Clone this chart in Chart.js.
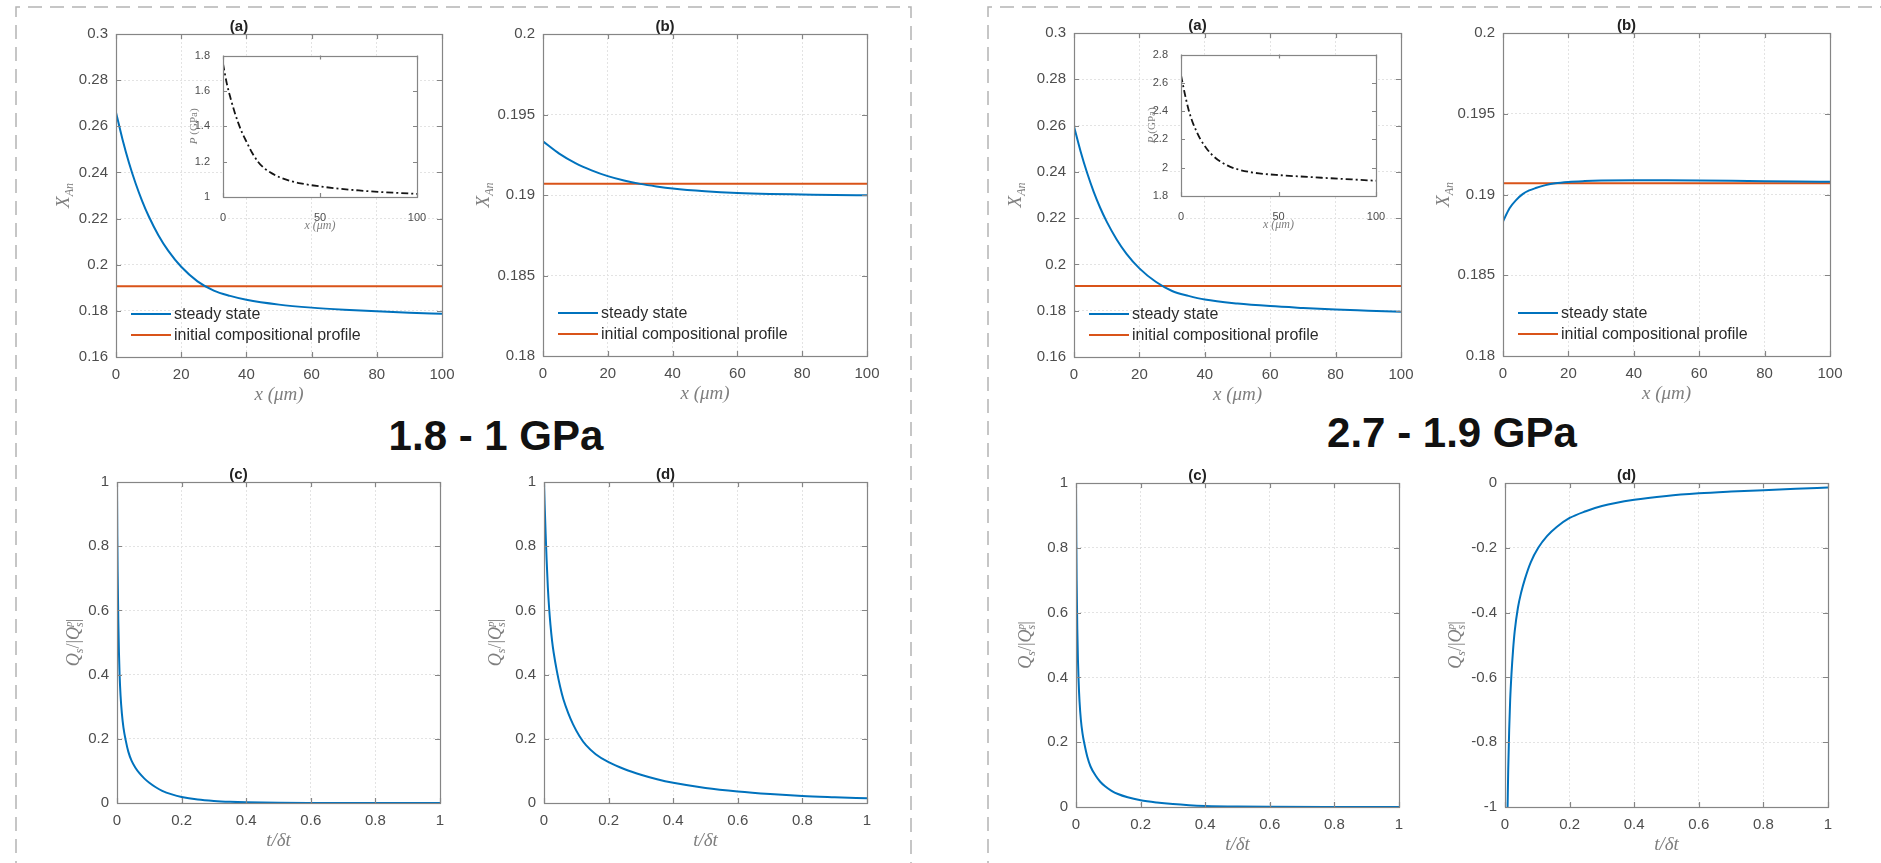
<!DOCTYPE html>
<html>
<head>
<meta charset="utf-8">
<script src="https://cdn.jsdelivr.net/npm/chart.js@4.4.1/dist/chart.umd.min.js"></script>
<style>
  html, body { margin: 0; padding: 0; background: #fff; }
  body { width: 1881px; height: 863px; position: relative; overflow: hidden; }
  canvas { position: absolute; }
  svg { position: absolute; left: 0; top: 0; }
</style>
</head>
<body>
<svg width="1881" height="863">
  <path d="M16,875 V7 H911 V875" fill="none" stroke="#b4b4b4" stroke-width="1.5" stroke-dasharray="14 8"/>
  <path d="M988,875 V7 H1895" fill="none" stroke="#b4b4b4" stroke-width="1.5" stroke-dasharray="14 8"/>
  <text x="496" y="450" text-anchor="middle" font-family="Liberation Sans, Arial, sans-serif" font-weight="bold" font-size="42" fill="#111">1.8 - 1 GPa</text>
  <text x="1452" y="447" text-anchor="middle" font-family="Liberation Sans, Arial, sans-serif" font-weight="bold" font-size="42" fill="#111">2.7 - 1.9 GPa</text>
</svg>
<script>
// ---------- data ----------
// initial compositional profile (flat)
const initX = [0, 100];
const initY = [0.1907, 0.1907];

// 1.8 - 1 GPa, panel (a): steady state X_An
const xLa = [0, 2, 4, 6, 8, 10, 13, 16, 20, 25, 30, 35, 40, 50, 60, 70, 80, 90, 100];
const steadyLa = [0.266, 0.2543, 0.2441, 0.2353, 0.2277, 0.2211, 0.2128, 0.2061, 0.1991, 0.1928, 0.1888, 0.1865, 0.1848, 0.1827, 0.1814, 0.1805, 0.1798, 0.1792, 0.1787];
// inset pressure
const xLaIn = [0, 2, 4, 6, 8, 10, 12, 15, 18, 21, 25, 30, 35, 40, 50, 60, 70, 80, 90, 100];
const pressLa = [1.755, 1.64, 1.555, 1.48, 1.415, 1.36, 1.315, 1.25, 1.20, 1.165, 1.135, 1.108, 1.09, 1.077, 1.06, 1.047, 1.037, 1.029, 1.023, 1.018];

// 1.8 - 1 GPa, panel (b)
const xLb = [0, 5, 10, 15, 20, 25, 30, 35, 40, 50, 60, 70, 80, 90, 100];
const steadyLb = [0.19333, 0.19257, 0.19198, 0.19153, 0.19117, 0.1909, 0.19069, 0.19053, 0.1904, 0.19023, 0.19012, 0.19006, 0.19003, 0.19, 0.18998];

// 1.8 - 1 GPa, panel (c)
const tLc = [0, 0.001, 0.002, 0.004, 0.006, 0.008, 0.011, 0.015, 0.02, 0.027, 0.035, 0.045, 0.057, 0.07, 0.085, 0.1, 0.12, 0.14, 0.17, 0.2, 0.25, 0.3, 0.35, 0.4, 0.5, 0.6, 0.8, 1];
const qLc = [1, 0.83, 0.72, 0.57, 0.47, 0.40, 0.335, 0.28, 0.235, 0.195, 0.16, 0.132, 0.11, 0.092, 0.076, 0.063, 0.049, 0.038, 0.027, 0.019, 0.011, 0.0065, 0.0038, 0.0022, 0.0008, 0.0003, 0.00005, 0];

// 1.8 - 1 GPa, panel (d)
const tLd = [0, 0.002, 0.005, 0.008, 0.012, 0.016, 0.02, 0.025, 0.03, 0.04, 0.05, 0.06, 0.075, 0.09, 0.11, 0.13, 0.16, 0.2, 0.25, 0.3, 0.35, 0.4, 0.5, 0.6, 0.7, 0.8, 0.9, 1];
const qLd = [1, 0.93, 0.84, 0.76, 0.67, 0.605, 0.555, 0.505, 0.468, 0.41, 0.362, 0.323, 0.28, 0.245, 0.208, 0.18, 0.152, 0.127, 0.105, 0.088, 0.074, 0.063, 0.047, 0.036, 0.028, 0.022, 0.018, 0.0145];

// 2.7 - 1.9 GPa, panel (a)
const xRa = [0, 2, 4, 6, 8, 10, 13, 16, 20, 25, 30, 35, 40, 50, 60, 70, 80, 90, 100];
const steadyRa = [0.2596, 0.2489, 0.2396, 0.2315, 0.2245, 0.2185, 0.2109, 0.2047, 0.1983, 0.1925, 0.1885, 0.1864, 0.1848, 0.1831, 0.182, 0.1812, 0.1805, 0.18, 0.1795];
const xRaIn = [0, 2, 4, 6, 8, 10, 13, 16, 20, 25, 30, 35, 40, 50, 60, 75, 88, 100];
const pressRa = [2.654, 2.52, 2.405, 2.32, 2.255, 2.20, 2.138, 2.09, 2.045, 2.008, 1.985, 1.97, 1.96, 1.948, 1.939, 1.927, 1.917, 1.908];

// 2.7 - 1.9 GPa, panel (b)
const xRb = [0, 2, 4, 6, 8, 10, 13, 16, 20, 25, 30, 40, 50, 60, 70, 80, 90, 100];
const steadyRb = [0.18833, 0.18915, 0.18965, 0.19002, 0.19025, 0.1904, 0.19058, 0.1907, 0.19078, 0.19083, 0.19086, 0.19088, 0.19088, 0.19087, 0.19085, 0.19082, 0.1908, 0.19079];

// 2.7 - 1.9 GPa, panel (c)
const tRc = [0, 0.001, 0.002, 0.004, 0.006, 0.008, 0.011, 0.015, 0.02, 0.026, 0.035, 0.045, 0.06, 0.075, 0.09, 0.11, 0.13, 0.16, 0.2, 0.25, 0.3, 0.35, 0.4, 0.5, 0.6, 0.8, 1];
const qRc = [1, 0.82, 0.70, 0.55, 0.455, 0.39, 0.325, 0.27, 0.228, 0.195, 0.155, 0.125, 0.098, 0.078, 0.064, 0.05, 0.04, 0.03, 0.021, 0.014, 0.009, 0.0055, 0.0033, 0.0012, 0.0004, 0.00005, 0];

// 2.7 - 1.9 GPa, panel (d)
const tRd = [0.008, 0.01, 0.013, 0.016, 0.02, 0.025, 0.03, 0.04, 0.05, 0.062, 0.08, 0.103, 0.13, 0.16, 0.2, 0.25, 0.3, 0.4, 0.5, 0.6, 0.7, 0.8, 0.9, 1];
const qRd = [-1, -0.884, -0.76, -0.67, -0.59, -0.515, -0.458, -0.385, -0.338, -0.295, -0.244, -0.2, -0.164, -0.136, -0.108, -0.087, -0.071, -0.052, -0.04, -0.032, -0.0265, -0.022, -0.0178, -0.0142];

// ---------- styling ----------
const BLUE = '#0072BD';
const ORANGE = '#D95319';
const SANS = '"Liberation Sans", Arial, sans-serif';
const SERIF = '"Liberation Serif", "Times New Roman", serif';

const pts = (xs, ys) => xs.map((x, i) => ({ x: x, y: ys[i] }));
const fmt = v => String(+Number(v).toFixed(4));

// rich y-axis labels (subscripts / superscripts)
const XAN = [
  { t: 'X', f: 'italic 19px ' + SERIF, dy: 0 },
  { t: 'An', f: 'italic 12px ' + SERIF, dy: 4 }
];
const QS = [
  { t: 'Q', f: 'italic 18px ' + SERIF, dy: 0 },
  { t: 's', f: 'italic 12px ' + SERIF, dy: 4 },
  { t: '/|', f: '18px ' + SERIF, dy: 0 },
  { t: 'Q', f: 'italic 18px ' + SERIF, dy: 0 },
  { t: 'p', f: 'italic 11px ' + SERIF, dy: -7, noAdv: true },
  { t: 's', f: 'italic 12px ' + SERIF, dy: 4 },
  { t: '|', f: '18px ' + SERIF, dy: 0 }
];
const PGPA = [
  { t: 'P', f: 'italic 11px ' + SERIF, dy: -2 },
  { t: ' (GPa)', f: '11px ' + SERIF, dy: -2 }
];

const yLabelSpec = {};

function drawRich(ctx, segs, cx, cy) {
  ctx.save();
  ctx.translate(cx, cy);
  ctx.rotate(-Math.PI / 2);
  const widths = segs.map(s => { ctx.font = s.f; return ctx.measureText(s.t).width; });
  let total = 0;
  segs.forEach((s, i) => { if (!s.noAdv) total += widths[i]; });
  let x = -total / 2;
  ctx.fillStyle = '#7f7f7f';
  ctx.textBaseline = 'alphabetic';
  ctx.textAlign = 'left';
  segs.forEach((s, i) => {
    ctx.font = s.f;
    ctx.fillText(s.t, x, 6 + s.dy);
    if (!s.noAdv) x += widths[i];
  });
  ctx.restore();
}

// MATLAB-like axes: white fill, box, inward ticks, y label, legend inside
const matlabLook = {
  id: 'matlabLook',
  beforeDraw(chart, args, o) {
    if (!o.fill) return;
    const a = chart.chartArea;
    chart.ctx.save();
    chart.ctx.fillStyle = '#fff';
    chart.ctx.fillRect(a.left, a.top, a.width, a.height);
    chart.ctx.restore();
  },
  afterDatasetsDraw(chart, args, o) {
    if (!o.legend) return;
    const a = chart.chartArea, ctx = chart.ctx;
    const ds = chart.data.datasets;
    ctx.save();
    ctx.font = '16px ' + SANS;
    ctx.textBaseline = 'middle';
    ctx.textAlign = 'left';
    ds.forEach((d, i) => {
      const y = a.bottom - 22 - (ds.length - 1 - i) * 21;
      ctx.strokeStyle = d.borderColor;
      ctx.lineWidth = 2;
      ctx.beginPath();
      ctx.moveTo(a.left + 15, y);
      ctx.lineTo(a.left + 55, y);
      ctx.stroke();
      ctx.fillStyle = '#2b2b2b';
      ctx.fillText(d.label, a.left + 58, y + 1);
    });
    ctx.restore();
  },
  afterDraw(chart, args, o) {
    const a = chart.chartArea, ctx = chart.ctx;
    const xs = chart.scales.x, ys = chart.scales.y;
    const tl = o.tickLen || 5;
    ctx.save();
    ctx.strokeStyle = '#858585';
    ctx.lineWidth = 1.2;
    ctx.beginPath();
    xs.ticks.forEach(t => {
      const px = Math.round(xs.getPixelForValue(t.value)) + 0.5;
      ctx.moveTo(px, a.bottom); ctx.lineTo(px, a.bottom - tl);
      ctx.moveTo(px, a.top); ctx.lineTo(px, a.top + tl);
    });
    ys.ticks.forEach(t => {
      const py = Math.round(ys.getPixelForValue(t.value)) + 0.5;
      ctx.moveTo(a.left, py); ctx.lineTo(a.left + tl, py);
      ctx.moveTo(a.right, py); ctx.lineTo(a.right - tl, py);
    });
    ctx.stroke();
    ctx.strokeRect(Math.round(a.left) + 0.5, Math.round(a.top) + 0.5, Math.round(a.width), Math.round(a.height));
    ctx.restore();
    const lab = yLabelSpec[chart.canvas.id];
    if (lab) drawRich(ctx, lab.segs, a.left - lab.off, (a.top + a.bottom) / 2);
  }
};
Chart.register(matlabLook);

function makePanel(id, s) {
  const inset = !!s.inset;
  const P = inset ? { l: 50, t: 8, r: 20, b: 42 } : { l: 80, t: 30, r: 30, b: 55 };
  const w = s.box.r - s.box.l + P.l + P.r;
  const h = s.box.b - s.box.t + P.t + P.b;
  const c = document.createElement('canvas');
  c.id = id;
  c.width = w; c.height = h;
  c.style.left = (s.box.l - P.l) + 'px';
  c.style.top = (s.box.t - P.t) + 'px';
  c.style.width = w + 'px'; c.style.height = h + 'px';
  document.body.appendChild(c);
  yLabelSpec[id] = { segs: s.yLab, off: s.yOff };

  const tickFont = { family: SANS, size: inset ? 11 : 15 };
  const grid = inset ? { display: false } : { color: '#e3e3e3', lineWidth: 1, drawTicks: false };

  new Chart(c, {
    type: 'line',
    data: { datasets: s.series },
    options: {
      responsive: false,
      animation: false,
      devicePixelRatio: 1,
      events: [],
      layout: { padding: { left: 0, top: inset ? P.t : 0, right: P.r, bottom: 0 } },
      elements: { point: { radius: 0 }, line: { borderWidth: 2, cubicInterpolationMode: 'monotone' } },
      scales: {
        x: {
          type: 'linear', min: s.xr[0], max: s.xr[1],
          afterFit: sc => { sc.height = P.b; },
          grid: grid,
          border: { display: false, dash: [2, 2] },
          ticks: { stepSize: s.xr[2], autoSkip: false, maxRotation: 0, color: '#4d4d4d', font: tickFont, padding: inset ? 6 : 9, callback: fmt },
          title: { display: true, text: s.xTitle, color: '#7f7f7f', font: { family: SERIF, style: 'italic', size: inset ? 12 : 19 }, padding: { top: 0, bottom: inset ? 6 : 6 } }
        },
        y: {
          type: 'linear', min: s.yr[0], max: s.yr[1],
          afterFit: sc => { sc.width = P.l; },
          grid: grid,
          border: { display: false, dash: [2, 2] },
          ticks: { stepSize: s.yr[2], autoSkip: false, color: '#4d4d4d', font: tickFont, padding: inset ? 5 : 8, callback: fmt }
        }
      },
      plugins: {
        legend: { display: false },
        tooltip: { enabled: false },
        title: inset ? { display: false } : {
          display: true, text: s.title, color: '#222',
          font: { family: SANS, size: 15, weight: 'bold', lineHeight: 1 },
          padding: { top: 15, bottom: 0 }
        },
        matlabLook: { fill: inset, legend: !!s.legend, tickLen: inset ? 4 : 5 }
      }
    }
  });
}

const steady = (xs, ys) => ({ label: 'steady state', data: pts(xs, ys), borderColor: BLUE, borderWidth: 2 });
const initial = () => ({ label: 'initial compositional profile', data: pts(initX, initY), borderColor: ORANGE, borderWidth: 2 });
const flux = (ts, qs) => ({ label: '', data: pts(ts, qs), borderColor: BLUE, borderWidth: 2 });
const press = (xs, ps) => ({ label: 'P', data: pts(xs, ps), borderColor: '#151515', borderWidth: 1.8, borderDash: [7, 3, 2, 3] });

const XT = 'x (μm)';
const TT = 't/δt';

// ---------- 1.8 - 1 GPa ----------
makePanel('la', { box: { l: 116, t: 34, r: 442, b: 357 }, title: '(a)', xr: [0, 100, 20], yr: [0.16, 0.3, 0.02], xTitle: XT, yLab: XAN, yOff: 53, legend: true, series: [steady(xLa, steadyLa), initial()] });
makePanel('lb', { box: { l: 543, t: 34, r: 867, b: 356 }, title: '(b)', xr: [0, 100, 20], yr: [0.18, 0.2, 0.005], xTitle: XT, yLab: XAN, yOff: 60, legend: true, series: [steady(xLb, steadyLb), initial()] });
makePanel('lc', { box: { l: 117, t: 482, r: 440, b: 803 }, title: '(c)', xr: [0, 1, 0.2], yr: [0, 1, 0.2], xTitle: TT, yLab: QS, yOff: 44, series: [flux(tLc, qLc)] });
makePanel('ld', { box: { l: 544, t: 482, r: 867, b: 803 }, title: '(d)', xr: [0, 1, 0.2], yr: [0, 1, 0.2], xTitle: TT, yLab: QS, yOff: 49, series: [flux(tLd, qLd)] });

// ---------- 2.7 - 1.9 GPa ----------
makePanel('ra', { box: { l: 1074, t: 33, r: 1401, b: 357 }, title: '(a)', xr: [0, 100, 20], yr: [0.16, 0.3, 0.02], xTitle: XT, yLab: XAN, yOff: 59, legend: true, series: [steady(xRa, steadyRa), initial()] });
makePanel('rb', { box: { l: 1503, t: 33, r: 1830, b: 356 }, title: '(b)', xr: [0, 100, 20], yr: [0.18, 0.2, 0.005], xTitle: XT, yLab: XAN, yOff: 60, legend: true, series: [steady(xRb, steadyRb), initial()] });
makePanel('rc', { box: { l: 1076, t: 483, r: 1399, b: 807 }, title: '(c)', xr: [0, 1, 0.2], yr: [0, 1, 0.2], xTitle: TT, yLab: QS, yOff: 51, series: [flux(tRc, qRc)] });
makePanel('rd', { box: { l: 1505, t: 483, r: 1828, b: 807 }, title: '(d)', xr: [0, 1, 0.2], yr: [-1, 0, 0.2], xTitle: TT, yLab: QS, yOff: 50, series: [flux(tRd, qRd)] });

// ---------- insets (pressure profiles) ----------
makePanel('laIn', { inset: true, box: { l: 223, t: 52, r: 417, b: 197 }, xr: [0, 100, 50], yr: [1, 1.8, 0.2], xTitle: XT, yLab: PGPA, yOff: 30, series: [press(xLaIn, pressLa)] });
makePanel('raIn', { inset: true, box: { l: 1181, t: 51, r: 1376, b: 196 }, xr: [0, 100, 50], yr: [1.8, 2.8, 0.2], xTitle: XT, yLab: PGPA, yOff: 30, series: [press(xRaIn, pressRa)] });
</script>
</body>
</html>
